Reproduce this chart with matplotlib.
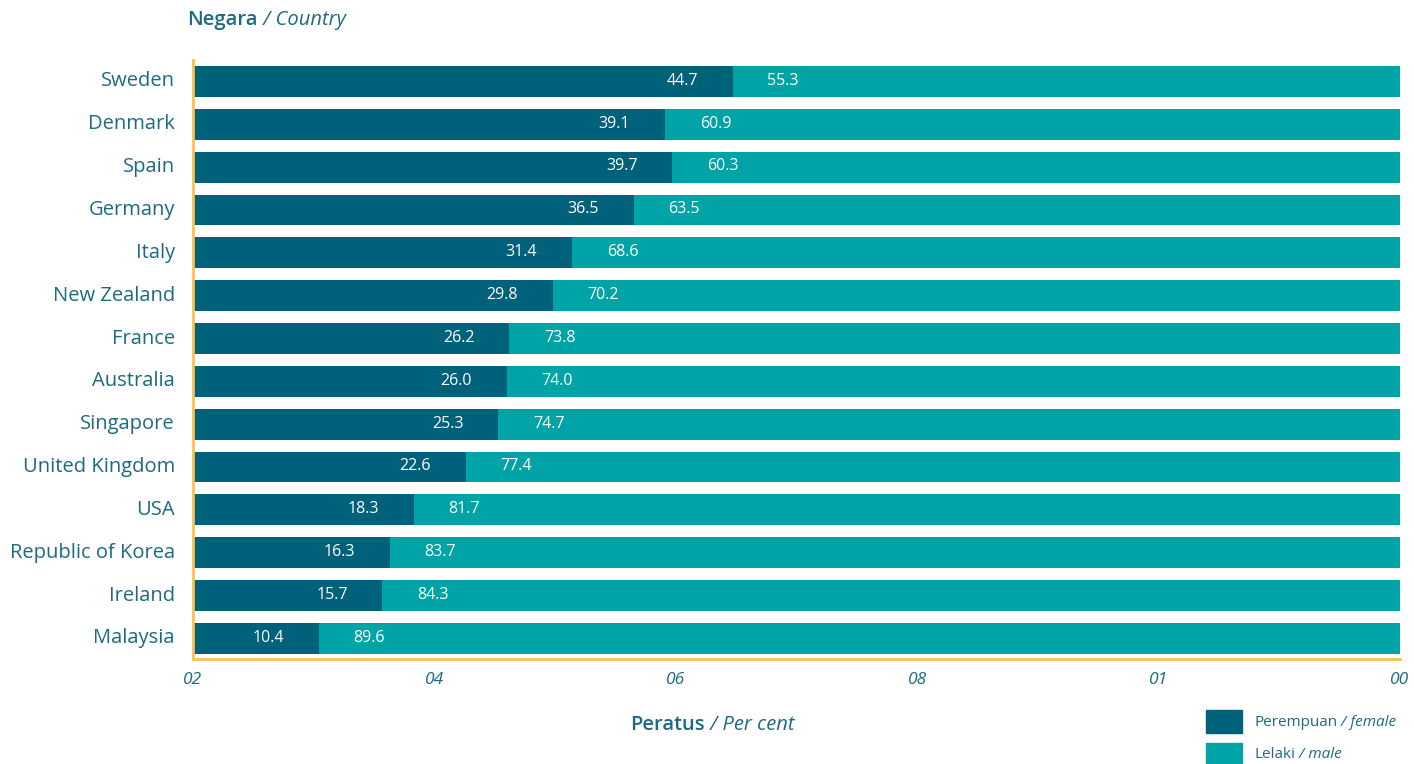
import matplotlib
matplotlib.use("Agg")
import matplotlib.pyplot as plt
from matplotlib.patches import Rectangle

countries = ["Sweden", "Denmark", "Spain", "Germany", "Italy", "New Zealand", "France",
             "Australia", "Singapore", "United Kingdom", "USA", "Republic of Korea",
             "Ireland", "Malaysia"]
female = [44.7, 39.1, 39.7, 36.5, 31.4, 29.8, 26.2, 26.0, 25.3, 22.6, 18.3, 16.3, 15.7, 10.4]
male = [55.3, 60.9, 60.3, 63.5, 68.6, 70.2, 73.8, 74.0, 74.7, 77.4, 81.7, 83.7, 84.3, 89.6]
xticks = [0, 20, 40, 60, 80, 100]
xtick_labels = ["02", "04", "06", "08", "01", "00"]

DARK = "#00617A"
TEAL = "#00A4A6"
TXT = "#1D6A80"
ORANGE = "#F9C24F"
FONT = "Open Sans"

plt.rcParams["font.family"] = [FONT, "DejaVu Sans"]

fig = plt.figure(figsize=(14.14, 7.64), dpi=100)
ax = fig.add_axes([193/1414, 1-659/764, (1400-193)/1414, (659-60)/764])

n = len(countries)
ypos = list(range(n - 1, -1, -1))
h = 31/43
ax.barh(ypos, female, height=h, color=DARK, edgecolor="none")
ax.barh(ypos, male, left=female, height=h, color=TEAL, edgecolor="none")

for y, f, m in zip(ypos, female, male):
    ax.annotate(f"{f:.1f}", xy=(f, y), xytext=(-25, 0.5), textcoords="offset points",
                ha="right", va="center", color="white", fontsize=11.5)
    ax.annotate(f"{m:.1f}", xy=(f, y), xytext=(25, 0.5), textcoords="offset points",
                ha="left", va="center", color="white", fontsize=11.5)

ax.set_xlim(0, 100)
ax.set_ylim(-0.48, n - 0.5)
ax.set_yticks(ypos)
ax.set_yticklabels(countries, fontsize=14.5, color=TXT, va="center")
ax.set_xticks(xticks)
ax.set_xticklabels(xtick_labels, fontsize=12.5, color=TXT, style="italic")
ax.tick_params(axis="both", length=0)
ax.tick_params(axis="y", pad=13)
ax.tick_params(axis="x", pad=9)
for s in ["top", "right"]:
    ax.spines[s].set_visible(False)
for s in ["left", "bottom"]:
    ax.spines[s].set_color(ORANGE)
    ax.spines[s].set_linewidth(2)

fig.canvas.draw()
r = fig.canvas.get_renderer()

def two_part(x, y, a, b, size, ha="left"):
    t1 = fig.text(x, y, a, fontsize=size, color=TXT, fontweight="semibold", va="center")
    t2 = fig.text(x, y, b, fontsize=size, color=TXT, style="italic", va="center")
    w1 = t1.get_window_extent(r).width / fig.bbox.width
    w2 = t2.get_window_extent(r).width / fig.bbox.width
    if ha == "center":
        x0 = x - (w1 + w2) / 2
    else:
        x0 = x
    t1.set_x(x0)
    t2.set_x(x0 + w1)

two_part(187/1414, 1-20/764, "Negara", " / Country", 14.5)
two_part(712/1414, 1-725/764, "Peratus", " / Per cent", 14.5, ha="center")

# legend
for yy, col, a, b in [(722, DARK, "Perempuan", " / female"), (755, TEAL, "Lelaki", " / male")]:
    fig.patches.append(Rectangle((1206/1414, 1-(yy+11)/764), 36/1414, 23/764,
                                 transform=fig.transFigure, color=col, figure=fig))
    t1 = fig.text(1254/1414, 1-yy/764, a, fontsize=11, color=TXT, va="center")
    w1 = t1.get_window_extent(r).width / fig.bbox.width
    fig.text(1254/1414 + w1, 1-yy/764, b, fontsize=11, color=TXT, style="italic", va="center")

fig.savefig("out.png", dpi=100)
